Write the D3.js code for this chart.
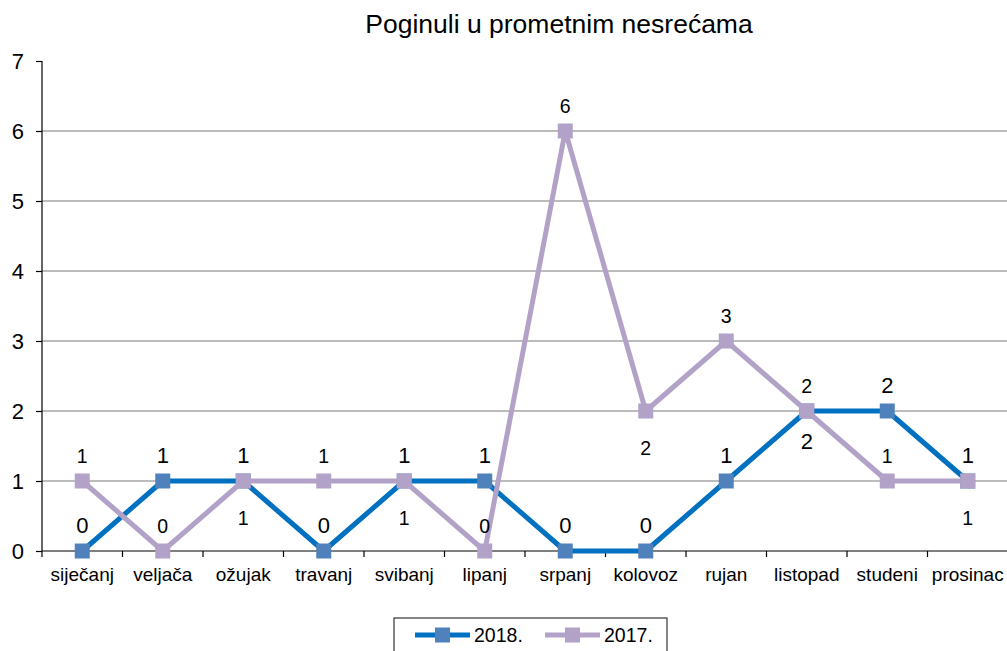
<!DOCTYPE html>
<html>
<head>
    <meta charset="utf-8">
    <title>Poginuli u prometnim nesrećama</title>
    <script src="https://d3js.org/d3.v7.min.js"></script>
    <style>
        body { margin: 0; background: #fff; }
        svg { font-family: "Liberation Sans", Arial, sans-serif; }
        .grid line { stroke: #a6a6a6; stroke-width: 1.3; }
        .axis path, .axis line { stroke: #000; stroke-width: 1.2; }
    </style>
</head>
<body>
<script>
    // podaci
    var months = ["siječanj", "veljača", "ožujak", "travanj", "svibanj", "lipanj",
                  "srpanj", "kolovoz", "rujan", "listopad", "studeni", "prosinac"];
    var values2018 = [0, 1, 1, 0, 1, 1, 0, 0, 1, 2, 2, 1];
    var values2017 = [1, 0, 1, 1, 1, 0, 6, 2, 3, 2, 1, 1];
    // gdje stoji oznaka vrijednosti: "a" iznad, "b" ispod
    var labelSide2018 = ["a", "a", "a", "a", "a", "a", "a", "a", "a", "b", "a", "a"];
    var labelSide2017 = ["a", "a", "b", "a", "b", "a", "a", "b", "a", "a", "a", "b"];
    var yTicks = [0, 1, 2, 3, 4, 5, 6, 7];

    var W = 1007, H = 651;
    var margin = {top: 61, right: -1, bottom: 100, left: 42};
    var width = W - margin.left - margin.right,
        height = H - margin.top - margin.bottom;

    var svg = d3.select("body").append("svg")
        .attr("width", W)
        .attr("height", H);

    // naslov
    svg.append("text")
        .attr("x", 559)
        .attr("y", 33)
        .attr("text-anchor", "middle")
        .attr("font-size", "26.5px")
        .attr("fill", "#000")
        .text("Poginuli u prometnim nesrećama");

    var g = svg.append("g")
        .attr("transform", "translate(" + margin.left + "," + margin.top + ")");

    var x = d3.scaleBand()
        .domain(months)
        .range([0, width]);

    var y = d3.scaleLinear()
        .domain([0, 7])
        .range([height, 0]);

    // mreža
    g.append("g")
        .attr("class", "grid")
        .selectAll("line")
        .data(yTicks.filter(function(d) { return d > 0 && d < 7; }))
        .enter().append("line")
        .attr("x1", 0).attr("x2", width)
        .attr("y1", function(d) { return y(d); })
        .attr("y2", function(d) { return y(d); });

    // Y os
    var yAxis = g.append("g")
        .attr("class", "axis")
        .call(d3.axisLeft(y).tickValues(yTicks).tickSize(6).tickPadding(12).tickFormat(d3.format("d")));
    yAxis.select(".domain").attr("d", "M0," + height + "V0");
    yAxis.selectAll("text").attr("font-size", "22px").attr("fill", "#000")
        .attr("font-family", "'Liberation Sans', Arial, sans-serif");

    // X os s crticama na granicama kategorija
    var xAxis = g.append("g")
        .attr("class", "axis")
        .attr("transform", "translate(0," + height + ")");
    xAxis.append("line")
        .attr("x1", 0).attr("x2", width)
        .attr("y1", 0).attr("y2", 0);
    xAxis.selectAll("line.tick")
        .data(months)
        .enter().append("line")
        .attr("class", "tick")
        .attr("x1", function(d) { return x(d); })
        .attr("x2", function(d) { return x(d); })
        .attr("y1", 0).attr("y2", 6);
    xAxis.selectAll("text")
        .data(months)
        .enter().append("text")
        .attr("x", function(d) { return x(d) + x.bandwidth() / 2; })
        .attr("y", 30)
        .attr("text-anchor", "middle")
        .attr("font-size", "19px")
        .attr("fill", "#000")
        .text(function(d) { return d; });

    var series = [
        {name: "2018.", values: values2018, sides: labelSide2018, line: "#0070c0", marker: "#4f81bd",
         labelSize: "22px", above: -26, below: 30},
        {name: "2017.", values: values2017, sides: labelSide2017, line: "#b3a2c7", marker: "#b3a2c7",
         labelSize: "19.5px", above: -25, below: 37}
    ];

    var line = d3.line()
        .x(function(d, i) { return x(months[i]) + x.bandwidth() / 2; })
        .y(function(d) { return y(d); });

    series.forEach(function(s) {
        g.append("path")
            .datum(s.values)
            .attr("d", line)
            .attr("fill", "none")
            .attr("stroke", s.line)
            .attr("stroke-width", 5)
            .attr("stroke-linejoin", "round");

        g.append("g")
            .selectAll("rect")
            .data(s.values)
            .enter().append("rect")
            .attr("x", function(d, i) { return x(months[i]) + x.bandwidth() / 2 - 7.5; })
            .attr("y", function(d) { return y(d) - 7.5; })
            .attr("width", 15)
            .attr("height", 15)
            .attr("fill", s.marker);
    });

    // oznake vrijednosti
    series.forEach(function(s) {
        g.append("g")
            .selectAll("text")
            .data(s.values)
            .enter().append("text")
            .attr("x", function(d, i) { return x(months[i]) + x.bandwidth() / 2; })
            .attr("y", function(d, i) { return y(d) + (s.sides[i] === "a" ? s.above : s.below); })
            .attr("dy", "0.35em")
            .attr("text-anchor", "middle")
            .attr("font-size", s.labelSize)
            .attr("fill", "#000")
            .text(function(d) { return d; });
    });

    // legenda
    var legend = svg.append("g").attr("transform", "translate(394,618)");
    legend.append("rect")
        .attr("x", 0).attr("y", 0)
        .attr("width", 273).attr("height", 40)
        .attr("fill", "#fff")
        .attr("stroke", "#333")
        .attr("stroke-width", 1.2);
    series.forEach(function(s, i) {
        var lx = 21 + i * 130;
        legend.append("line")
            .attr("x1", lx).attr("x2", lx + 55)
            .attr("y1", 17).attr("y2", 17)
            .attr("stroke", s.line)
            .attr("stroke-width", 5);
        legend.append("rect")
            .attr("x", lx + 20).attr("y", 9.5)
            .attr("width", 15).attr("height", 15)
            .attr("fill", s.marker);
        legend.append("text")
            .attr("x", lx + 59)
            .attr("y", 24)
            .attr("font-size", "19.5px")
            .attr("fill", "#000")
            .text(s.name);
    });
</script>
</body>
</html>
